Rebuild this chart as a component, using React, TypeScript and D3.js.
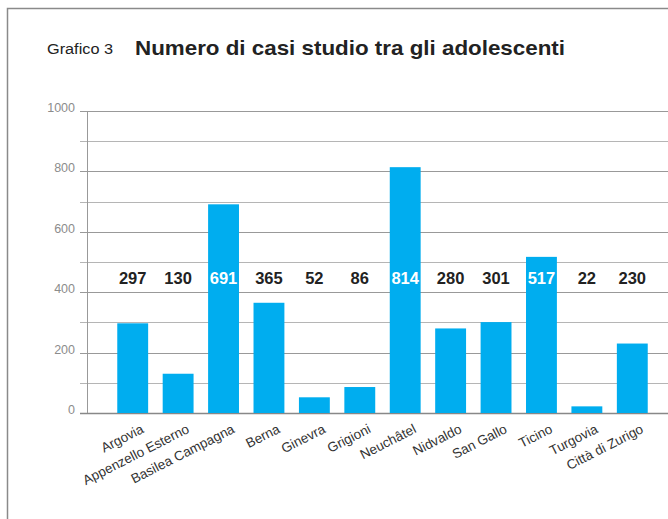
import * as d3 from 'd3'
import { useEffect, useRef } from 'react'

const CANTONS = [
  'Argovia',
  'Appenzello Esterno',
  'Basilea Campagna',
  'Berna',
  'Ginevra',
  'Grigioni',
  'Neuchâtel',
  'Nidvaldo',
  'San Gallo',
  'Ticino',
  'Turgovia',
  'Città di Zurigo',
]
const CASES = [297, 130, 691, 365, 52, 86, 814, 280, 301, 517, 22, 230]
const Y_TICKS = [0, 200, 400, 600, 800, 1000]
const GRID_LINES = [0, 100, 200, 300, 400, 500, 600, 700, 800, 900, 1000]

const W = 668
const H = 519
const FONT = '"Liberation Sans", Arial, sans-serif'
const BLUE = '#00adef'

export default function App() {
  const ref = useRef<SVGSVGElement | null>(null)

  useEffect(() => {
    document.body.style.margin = '0'
    const svgEl = ref.current
    if (!svgEl) return
    const svg = d3.select(svgEl)
    svg.selectAll('*').remove()

    const x = d3.scaleBand<string>().domain(CANTONS).range([110, 655]).paddingInner(0.32).paddingOuter(0.16)
    const y = d3.scaleLinear().domain([0, 1000]).range([413, 111])

    // frame
    svg
      .append('rect')
      .attr('x', 7.5)
      .attr('y', 8.5)
      .attr('width', W + 20)
      .attr('height', H + 20)
      .attr('fill', 'none')
      .attr('stroke', '#8a8a8a')
      .attr('stroke-width', 1.5)

    svg
      .append('text')
      .attr('x', 47)
      .attr('y', 54)
      .attr('font-family', FONT)
      .attr('font-size', 15.5)
      .attr('fill', '#222')
      .attr('textLength', 66)
      .attr('lengthAdjust', 'spacingAndGlyphs')
      .text('Grafico 3')
    svg
      .append('text')
      .attr('x', 135)
      .attr('y', 55)
      .attr('font-family', FONT)
      .attr('font-size', 21)
      .attr('font-weight', 'bold')
      .attr('fill', '#222')
      .attr('textLength', 430)
      .attr('lengthAdjust', 'spacingAndGlyphs')
      .text('Numero di casi studio tra gli adolescenti')

    const grid = svg.append('g')
    for (const v of GRID_LINES) {
      grid
        .append('line')
        .attr('x1', 80)
        .attr('x2', W)
        .attr('y1', Math.round(y(v)) + 0.5)
        .attr('y2', Math.round(y(v)) + 0.5)
        .attr('stroke', v === 0 ? '#888' : v % 200 === 0 ? '#999' : '#b5b5b5')
        .attr('stroke-width', v === 0 ? 1.5 : 1)
    }
    svg
      .append('line')
      .attr('x1', 87.5)
      .attr('x2', 87.5)
      .attr('y1', y(1000))
      .attr('y2', y(0))
      .attr('stroke', '#999')

    svg
      .append('g')
      .selectAll('text')
      .data(Y_TICKS)
      .join('text')
      .attr('x', 75)
      .attr('y', (d) => y(d) + 1)
      .attr('text-anchor', 'end')
      .attr('font-family', FONT)
      .attr('font-size', 12.5)
      .attr('fill', '#8c8c8c')
      .text((d) => String(d))

    svg
      .append('g')
      .selectAll('rect')
      .data(CASES)
      .join('rect')
      .attr('x', (_, i) => x(CANTONS[i])!)
      .attr('width', x.bandwidth())
      .attr('y', (d) => y(d))
      .attr('height', (d) => y(0) - y(d))
      .attr('fill', BLUE)

    const labelY = 284
    svg
      .append('g')
      .selectAll('text')
      .data(CASES)
      .join('text')
      .attr('x', (_, i) => x(CANTONS[i])! + x.bandwidth() / 2)
      .attr('y', labelY)
      .attr('text-anchor', 'middle')
      .attr('font-family', FONT)
      .attr('font-size', 16.5)
      .attr('font-weight', 'bold')
      .attr('fill', (d) => (y(d) < labelY - 14 ? '#fff' : '#222'))
      .text((d) => String(d))

    svg
      .append('g')
      .selectAll('text')
      .data(CANTONS)
      .join('text')
      .attr('transform', (d) => `translate(${x(d)! + x.bandwidth() / 2 + 12},${432}) rotate(-27)`)
      .attr('text-anchor', 'end')
      .attr('font-family', FONT)
      .attr('font-size', 13.5)
      .attr('fill', '#333')
      .text((d) => d)
  }, [])

  return <svg ref={ref} width={W} height={H} style={{ display: 'block', background: '#fff' }} />
}
